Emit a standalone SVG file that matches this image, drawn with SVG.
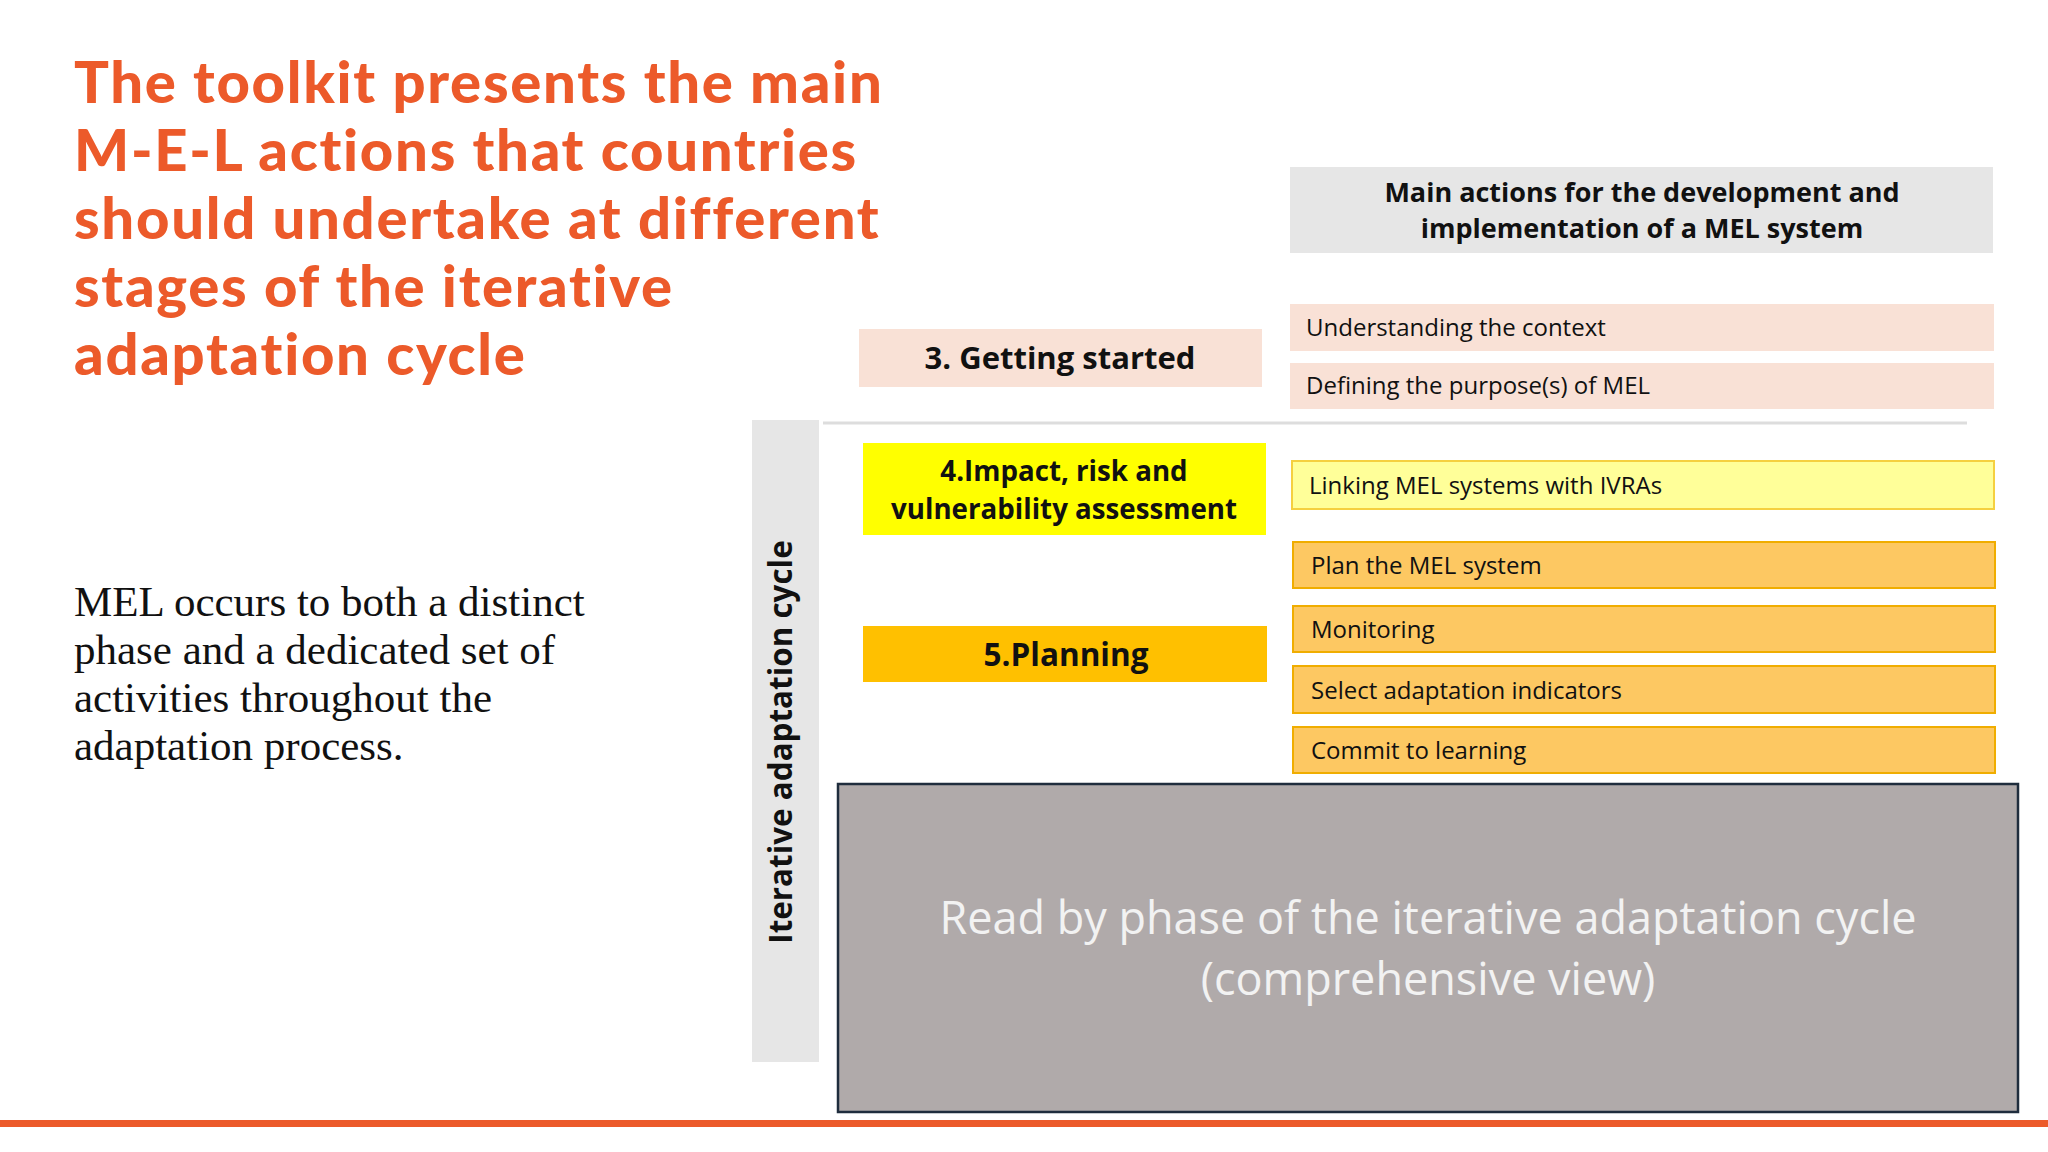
<svg xmlns="http://www.w3.org/2000/svg" width="2048" height="1152" viewBox="0 0 2048 1152">
<style>
.t{font-family:Lato,"Open Sans",sans-serif;font-weight:900;fill:#ec5a2a;font-size:58px;letter-spacing:1.7px}
.b{font-family:"Liberation Serif",serif;font-size:43px;fill:#111}
.h{font-family:"Open Sans",sans-serif;font-weight:bold;font-size:27px;fill:#111;text-anchor:middle}
.r{font-family:"Open Sans",sans-serif;font-size:24px;fill:#111}
.pk{fill:#f9e1d6}
.or{fill:#fdc862;stroke:#f0ad00;stroke-width:2}
</style>
<rect width="2048" height="1152" fill="#fff"/>
<g id="title">
<text class="t" x="74" y="103">The toolkit presents the main</text>
<text class="t" x="74" y="171">M-E-L actions that countries</text>
<text class="t" x="74" y="239">should undertake at different</text>
<text class="t" x="74" y="307">stages of the iterative</text>
<text class="t" x="74" y="375">adaptation cycle</text>
</g>
<g id="body">
<text class="b" x="74" y="616">MEL occurs to both a distinct</text>
<text class="b" x="74" y="664">phase and a dedicated set of</text>
<text class="b" x="74" y="712">activities throughout the</text>
<text class="b" x="74" y="760">adaptation process.</text>
</g>
<g id="header"><rect x="1290" y="167" width="703" height="86" fill="#e6e6e6"/>
<text class="h" x="1642" y="202">Main actions for the development and</text>
<text class="h" x="1642" y="238">implementation of a MEL system</text></g>
<g id="cycle"><rect x="752" y="420" width="67" height="642" fill="#e6e6e6"/>
<text class="h" style="font-size:31.4px" transform="translate(792 742) rotate(-90)">Iterative adaptation cycle</text></g>
<g id="connectors"><line x1="823" y1="423" x2="1967" y2="423" stroke="#ddd" stroke-width="3"/></g>
<g id="phase3"><rect class="pk" x="859" y="329" width="403" height="58"/>
<text class="h" style="font-size:31px" x="1060" y="369">3. Getting started</text></g>
<g id="row1"><rect class="pk" x="1290" y="304" width="704" height="47"/><text class="r" x="1306" y="336">Understanding the context</text></g>
<g id="row2"><rect class="pk" x="1290" y="363" width="704" height="46"/><text class="r" x="1306" y="394">Defining the purpose(s) of MEL</text></g>
<g id="phase4"><rect x="863" y="443" width="403" height="92" fill="#ffff00"/>
<text class="h" style="font-size:27.7px" x="1064" y="481">4.Impact, risk and</text>
<text class="h" style="font-size:27.7px" x="1064" y="519">vulnerability assessment</text></g>
<g id="row3"><rect x="1292" y="461" width="702" height="48" fill="#ffff99" stroke="#f5d040" stroke-width="2"/><text class="r" x="1309" y="494">Linking MEL systems with IVRAs</text></g>
<g id="phase5"><rect x="863" y="626" width="404" height="56" fill="#ffc000"/>
<text class="h" style="font-size:31.5px" x="1066" y="666">5.Planning</text></g>
<g id="row4"><rect class="or" x="1293" y="542" width="702" height="46"/><text class="r" x="1311" y="574">Plan the MEL system</text></g>
<g id="row5"><rect class="or" x="1293" y="606" width="702" height="46"/><text class="r" x="1311" y="638">Monitoring</text></g>
<g id="row6"><rect class="or" x="1293" y="666" width="702" height="47"/><text class="r" x="1311" y="699">Select adaptation indicators</text></g>
<g id="row7"><rect class="or" x="1293" y="727" width="702" height="46"/><text class="r" x="1311" y="759">Commit to learning</text></g>
<g id="overlay"><rect x="838" y="784" width="1180" height="328" fill="#b0aaaa" stroke="#1f2d3d" stroke-width="2.5"/>
<text x="1428" y="934" font-family="Open Sans,sans-serif" font-size="45" fill="#f2f2f2" text-anchor="middle">Read by phase of the iterative adaptation cycle</text>
<text x="1428" y="995" font-family="Open Sans,sans-serif" font-size="45" fill="#f2f2f2" text-anchor="middle">(comprehensive view)</text></g>
<rect x="0" y="1120" width="2048" height="7" fill="#ec5a2a"/>
</svg>
